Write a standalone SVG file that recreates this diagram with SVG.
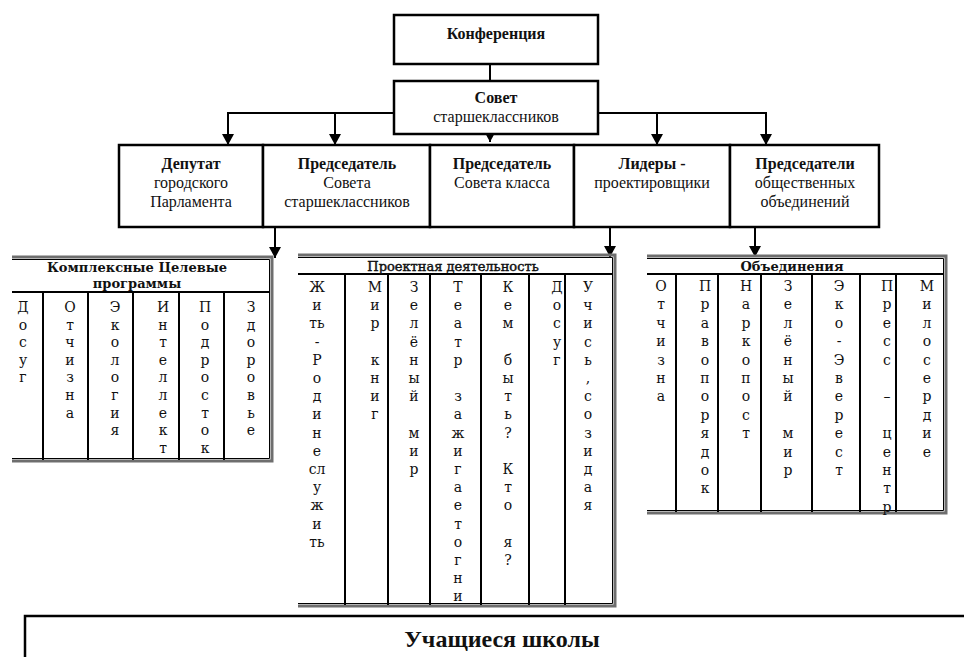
<svg xmlns="http://www.w3.org/2000/svg" width="964" height="657" viewBox="0 0 964 657">
<defs>
<marker id="ah" markerUnits="userSpaceOnUse" markerWidth="11" markerHeight="12" refX="11" refY="6" orient="auto">
<path d="M0,0 L11,6 L0,12 z" fill="#000"/>
</marker>
<style>
.box{fill:#fff;stroke:#000;stroke-width:2.5}
.t{font-family:"Liberation Serif","Times New Roman",serif;font-size:16px;fill:#111;text-anchor:middle}
.tb{font-weight:bold}
.con{stroke:#000;stroke-width:2;fill:none}
.fr{stroke:#6e6e6e;stroke-width:3;fill:none}
.fri{stroke:#000;stroke-width:1;fill:none}
.div{stroke:#000;stroke-width:2}
.hd{font-family:"DejaVu Serif",serif;font-size:13px;fill:#111;text-anchor:middle}
.hm{stroke:#111;stroke-width:0.45}
.lt{font-family:"DejaVu Serif",serif;font-size:14px;fill:#111;text-anchor:middle}
</style>
</defs>
<rect width="964" height="657" fill="#fff"/>

<g id="connectors">
<line class="con" x1="490" y1="64" x2="490" y2="81"/>
<line class="con" x1="228" y1="113" x2="394" y2="113"/>
<line class="con" x1="598" y1="113" x2="766" y2="113"/>
<line class="con" x1="228" y1="112" x2="228" y2="145" marker-end="url(#ah)"/>
<line class="con" x1="335" y1="113" x2="335" y2="145" marker-end="url(#ah)"/>
<line class="con" x1="657" y1="113" x2="657" y2="145" marker-end="url(#ah)"/>
<line class="con" x1="766" y1="112" x2="766" y2="145" marker-end="url(#ah)"/>
<line class="con" x1="490" y1="126" x2="490" y2="142" marker-end="url(#ah)"/>
<line class="con" x1="275" y1="227" x2="275" y2="258" marker-end="url(#ah)"/>
<line class="con" x1="610" y1="227" x2="610" y2="257" marker-end="url(#ah)"/>
<line class="con" x1="755" y1="227" x2="755" y2="257" marker-end="url(#ah)"/>
</g>

<g id="konferentsiya">
<rect class="box" x="394" y="15" width="204" height="49"/>
<text class="t tb" x="496" y="39">Конференция</text>
</g>

<g id="sovet">
<rect class="box" x="394" y="81" width="204" height="53"/>
<text class="t tb" x="496" y="103">Совет</text>
<text class="t" x="496" y="122">старшеклассников</text>
</g>

<g id="deputat">
<rect class="box" x="119" y="145" width="144" height="82"/>
<text class="t tb" x="191" y="169">Депутат</text>
<text class="t" x="191" y="188">городского</text>
<text class="t" x="191" y="207">Парламента</text>
</g>

<g id="pred-soveta">
<rect class="box" x="263" y="145" width="167" height="82"/>
<text class="t tb" x="347" y="169">Председатель</text>
<text class="t" x="347" y="188">Совета</text>
<text class="t" x="347" y="207">старшеклассников</text>
</g>

<g id="pred-klassa">
<rect class="box" x="430" y="145" width="144" height="82"/>
<text class="t tb" x="502" y="169">Председатель</text>
<text class="t" x="502" y="188">Совета класса</text>
</g>

<g id="lidery">
<rect class="box" x="574" y="145" width="156" height="82"/>
<text class="t tb" x="652" y="169">Лидеры -</text>
<text class="t" x="652" y="188">проектировщики</text>
</g>

<g id="pred-obed">
<rect class="box" x="730" y="145" width="149" height="82"/>
<text class="t tb" x="805" y="169">Председатели</text>
<text class="t" x="805" y="188">общественных</text>
<text class="t" x="805" y="207">объединений</text>
</g>

<g id="kompleksnye">
<path class="fr" d="M12,257 H272 V461 H12"/>
<path class="fri" d="M12,259.5 H269.5 V458.5 H12"/>
<line class="div" x1="12" y1="292" x2="270" y2="292"/>
<g class="div">
<line x1="43" y1="292" x2="43" y2="460"/>
<line x1="88" y1="292" x2="88" y2="460"/>
<line x1="133" y1="292" x2="133" y2="460"/>
<line x1="179" y1="292" x2="179" y2="460"/>
<line x1="224" y1="292" x2="224" y2="460"/>
</g>
<text class="hd tb" x="137" y="272">Комплексные Целевые</text>
<text class="hd tb" x="137" y="288">программы</text>
<text class="lt"><tspan x="23" y="312">Д</tspan><tspan x="23" dy="17.6">о</tspan><tspan x="23" dy="17.6">с</tspan><tspan x="23" dy="17.6">у</tspan><tspan x="23" dy="17.6">г</tspan></text>
<text class="lt"><tspan x="70" y="312">О</tspan><tspan x="70" dy="17.6">т</tspan><tspan x="70" dy="17.6">ч</tspan><tspan x="70" dy="17.6">и</tspan><tspan x="70" dy="17.6">з</tspan><tspan x="70" dy="17.6">н</tspan><tspan x="70" dy="17.6">а</tspan></text>
<text class="lt"><tspan x="115" y="312">Э</tspan><tspan x="115" dy="17.6">к</tspan><tspan x="115" dy="17.6">о</tspan><tspan x="115" dy="17.6">л</tspan><tspan x="115" dy="17.6">о</tspan><tspan x="115" dy="17.6">г</tspan><tspan x="115" dy="17.6">и</tspan><tspan x="115" dy="17.6">я</tspan></text>
<text class="lt"><tspan x="163" y="312">И</tspan><tspan x="163" dy="17.6">н</tspan><tspan x="163" dy="17.6">т</tspan><tspan x="163" dy="17.6">е</tspan><tspan x="163" dy="17.6">л</tspan><tspan x="163" dy="17.6">л</tspan><tspan x="163" dy="17.6">е</tspan><tspan x="163" dy="17.6">к</tspan><tspan x="163" dy="17.6">т</tspan></text>
<text class="lt"><tspan x="205" y="312">П</tspan><tspan x="205" dy="17.6">о</tspan><tspan x="205" dy="17.6">д</tspan><tspan x="205" dy="17.6">р</tspan><tspan x="205" dy="17.6">о</tspan><tspan x="205" dy="17.6">с</tspan><tspan x="205" dy="17.6">т</tspan><tspan x="205" dy="17.6">о</tspan><tspan x="205" dy="17.6">к</tspan></text>
<text class="lt"><tspan x="251" y="312">З</tspan><tspan x="251" dy="17.6">д</tspan><tspan x="251" dy="17.6">о</tspan><tspan x="251" dy="17.6">р</tspan><tspan x="251" dy="17.6">о</tspan><tspan x="251" dy="17.6">в</tspan><tspan x="251" dy="17.6">ь</tspan><tspan x="251" dy="17.6">е</tspan></text>
</g>

<g id="proektnaya">
<path class="fr" d="M298,255 H615 V606 H298"/>
<path class="fri" d="M298,257.5 H612.5 V603.5 H298"/>
<line class="div" x1="298" y1="274" x2="613" y2="274"/>
<g class="div">
<line x1="345" y1="274" x2="345" y2="605"/>
<line x1="388" y1="274" x2="388" y2="605"/>
<line x1="430" y1="274" x2="430" y2="605"/>
<line x1="481" y1="274" x2="481" y2="605"/>
<line x1="529" y1="274" x2="529" y2="605"/>
<line x1="565" y1="274" x2="565" y2="605"/>
</g>
<text class="hd hm" x="453" y="271">Проектная деятельность</text>
<text class="lt"><tspan x="317" y="292">Ж</tspan><tspan x="317" dy="18.2">и</tspan><tspan x="317" dy="18.2">ть</tspan><tspan x="317" dy="18.2">-</tspan><tspan x="317" dy="18.2">Р</tspan><tspan x="317" dy="18.2">о</tspan><tspan x="317" dy="18.2">д</tspan><tspan x="317" dy="18.2">и</tspan><tspan x="317" dy="18.2">н</tspan><tspan x="317" dy="18.2">е</tspan><tspan x="317" dy="18.2">сл</tspan><tspan x="317" dy="18.2">у</tspan><tspan x="317" dy="18.2">ж</tspan><tspan x="317" dy="18.2">и</tspan><tspan x="317" dy="18.2">ть</tspan></text>
<text class="lt"><tspan x="375" y="292">М</tspan><tspan x="375" dy="18.2">и</tspan><tspan x="375" dy="18.2">р</tspan><tspan x="375" dy="36.4">к</tspan><tspan x="375" dy="18.2">н</tspan><tspan x="375" dy="18.2">и</tspan><tspan x="375" dy="18.2">г</tspan></text>
<text class="lt"><tspan x="414" y="292">З</tspan><tspan x="414" dy="18.2">е</tspan><tspan x="414" dy="18.2">л</tspan><tspan x="414" dy="18.2">ё</tspan><tspan x="414" dy="18.2">н</tspan><tspan x="414" dy="18.2">ы</tspan><tspan x="414" dy="18.2">й</tspan><tspan x="414" dy="36.4">м</tspan><tspan x="414" dy="18.2">и</tspan><tspan x="414" dy="18.2">р</tspan></text>
<text class="lt"><tspan x="458" y="292">Т</tspan><tspan x="458" dy="18.2">е</tspan><tspan x="458" dy="18.2">а</tspan><tspan x="458" dy="18.2">т</tspan><tspan x="458" dy="18.2">р</tspan><tspan x="458" dy="36.4">з</tspan><tspan x="458" dy="18.2">а</tspan><tspan x="458" dy="18.2">ж</tspan><tspan x="458" dy="18.2">и</tspan><tspan x="458" dy="18.2">г</tspan><tspan x="458" dy="18.2">а</tspan><tspan x="458" dy="18.2">е</tspan><tspan x="458" dy="18.2">т</tspan><tspan x="458" dy="18.2">о</tspan><tspan x="458" dy="18.2">г</tspan><tspan x="458" dy="18.2">н</tspan><tspan x="458" dy="18.2">и</tspan></text>
<text class="lt"><tspan x="508" y="292">К</tspan><tspan x="508" dy="18.2">е</tspan><tspan x="508" dy="18.2">м</tspan><tspan x="508" dy="36.4">б</tspan><tspan x="508" dy="18.2">ы</tspan><tspan x="508" dy="18.2">т</tspan><tspan x="508" dy="18.2">ь</tspan><tspan x="508" dy="18.2">?</tspan><tspan x="508" dy="36.4">К</tspan><tspan x="508" dy="18.2">т</tspan><tspan x="508" dy="18.2">о</tspan><tspan x="508" dy="36.4">я</tspan><tspan x="508" dy="18.2">?</tspan></text>
<text class="lt"><tspan x="557" y="292">Д</tspan><tspan x="557" dy="18.2">о</tspan><tspan x="557" dy="18.2">с</tspan><tspan x="557" dy="18.2">у</tspan><tspan x="557" dy="18.2">г</tspan></text>
<text class="lt"><tspan x="588" y="292">У</tspan><tspan x="588" dy="18.2">ч</tspan><tspan x="588" dy="18.2">и</tspan><tspan x="588" dy="18.2">с</tspan><tspan x="588" dy="18.2">ь</tspan><tspan x="588" dy="18.2">,</tspan><tspan x="588" dy="18.2">с</tspan><tspan x="588" dy="18.2">о</tspan><tspan x="588" dy="18.2">з</tspan><tspan x="588" dy="18.2">и</tspan><tspan x="588" dy="18.2">д</tspan><tspan x="588" dy="18.2">а</tspan><tspan x="588" dy="18.2">я</tspan></text>
</g>

<g id="obedineniya">
<path class="fr" d="M647,256 H946 V513 H647"/>
<path class="fri" d="M647,258.5 H943.5 V510.5 H647"/>
<line class="div" x1="647" y1="274" x2="944" y2="274"/>
<g class="div">
<line x1="676" y1="274" x2="676" y2="512"/>
<line x1="718" y1="274" x2="718" y2="512"/>
<line x1="761" y1="274" x2="761" y2="512"/>
<line x1="812" y1="274" x2="812" y2="512"/>
<line x1="860" y1="274" x2="860" y2="512"/>
<line x1="896" y1="274" x2="896" y2="512"/>
</g>
<text class="hd tb" x="792" y="271">Объединения</text>
<text class="lt"><tspan x="661" y="291">О</tspan><tspan x="661" dy="18.4">т</tspan><tspan x="661" dy="18.4">ч</tspan><tspan x="661" dy="18.4">и</tspan><tspan x="661" dy="18.4">з</tspan><tspan x="661" dy="18.4">н</tspan><tspan x="661" dy="18.4">а</tspan></text>
<text class="lt"><tspan x="705" y="291">П</tspan><tspan x="705" dy="18.4">р</tspan><tspan x="705" dy="18.4">а</tspan><tspan x="705" dy="18.4">в</tspan><tspan x="705" dy="18.4">о</tspan><tspan x="705" dy="18.4">п</tspan><tspan x="705" dy="18.4">о</tspan><tspan x="705" dy="18.4">р</tspan><tspan x="705" dy="18.4">я</tspan><tspan x="705" dy="18.4">д</tspan><tspan x="705" dy="18.4">о</tspan><tspan x="705" dy="18.4">к</tspan></text>
<text class="lt"><tspan x="746" y="291">Н</tspan><tspan x="746" dy="18.4">а</tspan><tspan x="746" dy="18.4">р</tspan><tspan x="746" dy="18.4">к</tspan><tspan x="746" dy="18.4">о</tspan><tspan x="746" dy="18.4">п</tspan><tspan x="746" dy="18.4">о</tspan><tspan x="746" dy="18.4">с</tspan><tspan x="746" dy="18.4">т</tspan></text>
<text class="lt"><tspan x="788" y="291">З</tspan><tspan x="788" dy="18.4">е</tspan><tspan x="788" dy="18.4">л</tspan><tspan x="788" dy="18.4">ё</tspan><tspan x="788" dy="18.4">н</tspan><tspan x="788" dy="18.4">ы</tspan><tspan x="788" dy="18.4">й</tspan><tspan x="788" dy="36.8">м</tspan><tspan x="788" dy="18.4">и</tspan><tspan x="788" dy="18.4">р</tspan></text>
<text class="lt"><tspan x="839" y="291">Э</tspan><tspan x="839" dy="18.4">к</tspan><tspan x="839" dy="18.4">о</tspan><tspan x="839" dy="18.4">-</tspan><tspan x="839" dy="18.4">Э</tspan><tspan x="839" dy="18.4">в</tspan><tspan x="839" dy="18.4">е</tspan><tspan x="839" dy="18.4">р</tspan><tspan x="839" dy="18.4">е</tspan><tspan x="839" dy="18.4">с</tspan><tspan x="839" dy="18.4">т</tspan></text>
<text class="lt"><tspan x="887" y="291">П</tspan><tspan x="887" dy="18.4">р</tspan><tspan x="887" dy="18.4">е</tspan><tspan x="887" dy="18.4">с</tspan><tspan x="887" dy="18.4">с</tspan><tspan x="887" dy="36.8">–</tspan><tspan x="887" dy="36.8">ц</tspan><tspan x="887" dy="18.4">е</tspan><tspan x="887" dy="18.4">н</tspan><tspan x="887" dy="18.4">т</tspan><tspan x="887" dy="18.4">р</tspan></text>
<text class="lt"><tspan x="927" y="291">М</tspan><tspan x="927" dy="18.4">и</tspan><tspan x="927" dy="18.4">л</tspan><tspan x="927" dy="18.4">о</tspan><tspan x="927" dy="18.4">с</tspan><tspan x="927" dy="18.4">е</tspan><tspan x="927" dy="18.4">р</tspan><tspan x="927" dy="18.4">д</tspan><tspan x="927" dy="18.4">и</tspan><tspan x="927" dy="18.4">е</tspan></text>
</g>

<g id="uchashchiesya">
<path d="M25,657 V616 H966" fill="none" stroke="#000" stroke-width="2.5"/>
<text class="t tb" x="502" y="647" style="font-size:24px">Учащиеся школы</text>
</g>
</svg>
